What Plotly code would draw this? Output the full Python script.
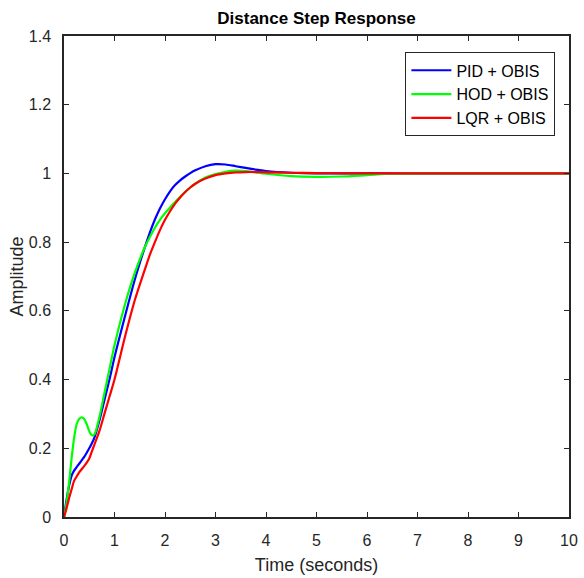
import plotly.graph_objects as go

# Time samples (s)
t = [0, 0.05, 0.1, 0.15, 0.2, 0.25, 0.3, 0.35, 0.4, 0.45, 0.5, 0.55, 0.6, 0.7, 0.8, 0.9,
     1.0, 1.2, 1.4, 1.6, 1.7, 1.8, 1.9, 2.0, 2.1, 2.2, 2.3, 2.4, 2.5, 2.6, 2.8, 3.0, 3.2,
     3.4, 3.6, 3.8, 4.0, 4.5, 5.0, 5.5, 6.0, 6.5, 7.0, 8.0, 9.0, 10.0]

pid_obis = [0, 0.05, 0.09, 0.12, 0.135, 0.145, 0.155, 0.165, 0.175, 0.187, 0.2, 0.214, 0.23,
            0.28, 0.34, 0.40, 0.465, 0.58, 0.69, 0.785, 0.828, 0.866, 0.898, 0.925, 0.948, 0.966,
            0.980, 0.991, 1.001, 1.009, 1.021, 1.027, 1.026, 1.021, 1.016, 1.011, 1.007, 1.002,
            1.0, 1.0, 1.0, 1.0, 1.0, 1.0, 1.0, 1.0]

hod_obis = [0, 0.04, 0.10, 0.17, 0.23, 0.27, 0.285, 0.29, 0.285, 0.27, 0.25, 0.238, 0.24,
            0.29, 0.36, 0.43, 0.50, 0.615, 0.71, 0.785, 0.815, 0.842, 0.865, 0.884, 0.901, 0.917,
            0.932, 0.946, 0.959, 0.97, 0.988, 0.998, 1.005, 1.008, 1.007, 1.003, 0.999, 0.992,
            0.99, 0.991, 0.995, 0.999, 1.0, 1.0, 1.0, 1.0]

lqr_obis = [0, 0.025, 0.055, 0.08, 0.105, 0.118, 0.13, 0.139, 0.148, 0.158, 0.17, 0.19, 0.21,
            0.25, 0.30, 0.35, 0.40, 0.52, 0.63, 0.72, 0.763, 0.80, 0.835, 0.865, 0.89, 0.912,
            0.93, 0.946, 0.959, 0.97, 0.985, 0.995, 1.0, 1.003, 1.004, 1.004, 1.003, 1.002,
            1.001, 1.0, 1.0, 1.0, 1.0, 1.0, 1.0, 1.0]

series = [
    ("PID + OBIS", pid_obis, "#0000ff"),
    ("HOD + OBIS", hod_obis, "#00ff00"),
    ("LQR + OBIS", lqr_obis, "#ff0000"),
]

fig = go.Figure()
for name, y, color in series:
    fig.add_trace(go.Scatter(
        x=t, y=y, name=name, mode="lines",
        line=dict(color=color, width=2.2, shape="spline", smoothing=0.8),
    ))

font_family = "Liberation Sans, Arial, sans-serif"
axis_common = dict(
    showline=True, linecolor="#262626", linewidth=1.5, mirror="ticks",
    ticks="inside", ticklen=5, tickwidth=1.2, tickcolor="#262626",
    showgrid=False, zeroline=False, automargin=False,
    tickfont=dict(family=font_family, size=16, color="#262626"),
)

fig.update_layout(
    width=584, height=578,
    margin=dict(l=64, r=15, t=36, b=61),
    paper_bgcolor="white", plot_bgcolor="white",
    title=dict(text="<b>Distance Step Response</b>", x=(64 + 569) / 2 / 584, xanchor="center",
               y=1 - 18 / 578, yanchor="middle",
               font=dict(family=font_family, size=17, color="black")),
    xaxis=dict(range=[0, 10], tickvals=list(range(0, 11)), ticklabelstandoff=8,
               title=dict(text="Time (seconds)", standoff=10,
                          font=dict(family=font_family, size=18, color="#262626")),
               **axis_common),
    yaxis=dict(range=[0, 1.4], tickvals=[0, 0.2, 0.4, 0.6, 0.8, 1.0, 1.2, 1.4],
               ticktext=["0", "0.2", "0.4", "0.6", "0.8", "1", "1.2", "1.4"],
               ticklabelstandoff=8,
               title=dict(text="Amplitude", standoff=0,
                          font=dict(family=font_family, size=18, color="#262626")),
               **axis_common),
    legend=dict(x=0.676, y=0.966, xanchor="left", yanchor="top",
                bgcolor="white", bordercolor="#262626", borderwidth=1,
                font=dict(family=font_family, size=16, color="black"),
                tracegroupgap=0, itemwidth=40),
    showlegend=True,
)

fig.write_html("out.html")
